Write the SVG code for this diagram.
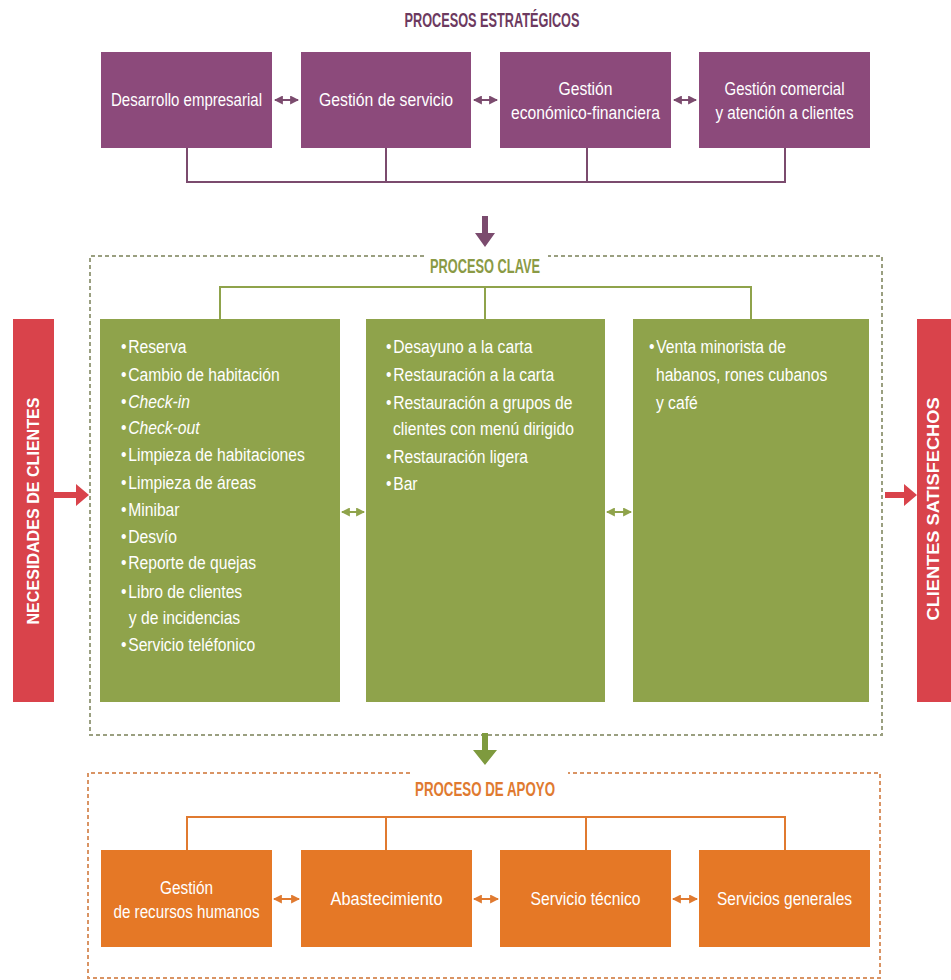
<svg xmlns="http://www.w3.org/2000/svg" width="951" height="980" viewBox="0 0 951 980">
<defs>
<style>
text{font-family:"Liberation Sans",Arial,sans-serif;fill:#fff}
.lbl{font-size:17.5px;text-anchor:middle}
.li{font-size:18px}
.ttl{font-size:20px;font-weight:bold;text-anchor:middle}
.side{font-size:16px;font-weight:bold;text-anchor:middle}
.pbox{fill:#8c4a7b}
.gbox{fill:#8fa34b}
.obox{fill:#e57826}
.rbar{fill:#d9434b}
.pl{stroke:#7b4b6e;stroke-width:2;fill:none}
.gl{stroke:#8fa34b;stroke-width:2;fill:none}
.ol{stroke:#e07a30;stroke-width:2;fill:none}
.gd{stroke:#9a9f80;stroke-width:2;stroke-dasharray:4 3;fill:none}
.od{stroke:#d99464;stroke-width:2;stroke-dasharray:4 3;fill:none}
</style>
<marker id="ap" viewBox="0 0 8 8" refX="7" refY="4" markerWidth="9" markerHeight="9" markerUnits="userSpaceOnUse" orient="auto-start-reverse"><path d="M0,0 L8,4 L0,8 z" fill="#7b4b6e"/></marker>
<marker id="ag" viewBox="0 0 8 8" refX="7" refY="4" markerWidth="9" markerHeight="9" markerUnits="userSpaceOnUse" orient="auto-start-reverse"><path d="M0,0 L8,4 L0,8 z" fill="#8fa34b"/></marker>
<marker id="ao" viewBox="0 0 8 8" refX="7" refY="4" markerWidth="9" markerHeight="9" markerUnits="userSpaceOnUse" orient="auto-start-reverse"><path d="M0,0 L8,4 L0,8 z" fill="#e07a30"/></marker>
</defs>
<rect width="951" height="980" fill="#fff"/>

<!-- frames and titles -->
<g id="frames">
<path class="gd" d="M424,256 H90 V735 H882 V256 H548"/>
<path class="od" d="M410,773 H88 V978 H880 V773 H568"/>
<text class="ttl" x="492" y="27" style="fill:#6d3a5f" textLength="175" lengthAdjust="spacingAndGlyphs">PROCESOS ESTRATÉGICOS</text>
<text class="ttl" x="485" y="273" style="fill:#8a9a45" textLength="110" lengthAdjust="spacingAndGlyphs">PROCESO CLAVE</text>
<text class="ttl" x="485" y="796" style="fill:#e07a30" textLength="140" lengthAdjust="spacingAndGlyphs">PROCESO DE APOYO</text>
</g>

<!-- connectors -->
<g id="connectors">
<path class="pl" d="M187,148 V182 H785 V148 M386,148 V182 M587,148 V182"/>
<line class="pl" x1="275" y1="100" x2="298" y2="100" marker-start="url(#ap)" marker-end="url(#ap)"/>
<line class="pl" x1="474" y1="100" x2="497" y2="100" marker-start="url(#ap)" marker-end="url(#ap)"/>
<line class="pl" x1="674" y1="100" x2="696" y2="100" marker-start="url(#ap)" marker-end="url(#ap)"/>
<path d="M482,216 H488 V233 H495 L485,247 L475,233 H482 Z" fill="#7b4b6e"/>
<path class="gl" d="M220,319 V287 H751 V319 M485,287 V319"/>
<line class="gl" x1="342" y1="512" x2="364" y2="512" marker-start="url(#ag)" marker-end="url(#ag)"/>
<line class="gl" x1="607" y1="512" x2="631" y2="512" marker-start="url(#ag)" marker-end="url(#ag)"/>
<path d="M482,733 H488 V750 H497 L485,765 L473,750 H482 Z" fill="#7e9a3e"/>
<path class="ol" d="M187,850 V817 H785 V850 M386,817 V850 M586,817 V850"/>
<line class="ol" x1="274" y1="899" x2="299" y2="899" marker-start="url(#ao)" marker-end="url(#ao)"/>
<line class="ol" x1="474" y1="899" x2="498" y2="899" marker-start="url(#ao)" marker-end="url(#ao)"/>
<line class="ol" x1="673" y1="899" x2="697" y2="899" marker-start="url(#ao)" marker-end="url(#ao)"/>
<path d="M54,492 H76 V484 L89,495 L76,506 V498 H54 Z" fill="#d9434b"/>
<path d="M885,492 H904 V484 L917,495 L904,506 V498 H885 Z" fill="#d9434b"/>
</g>

<!-- strategic -->
<g id="desarrollo"><rect class="pbox" x="101" y="52" width="171" height="96"/><text class="lbl" x="186.5" y="106" textLength="151" lengthAdjust="spacingAndGlyphs">Desarrollo empresarial</text></g>
<g id="gestion-servicio"><rect class="pbox" x="301" y="52" width="170" height="96"/><text class="lbl" x="386" y="106" textLength="134" lengthAdjust="spacingAndGlyphs">Gestión de servicio</text></g>
<g id="gestion-economica"><rect class="pbox" x="500" y="52" width="171" height="96"/><text class="lbl" x="585.5" y="95" textLength="54" lengthAdjust="spacingAndGlyphs">Gestión</text><text class="lbl" x="585.5" y="119" textLength="149" lengthAdjust="spacingAndGlyphs">económico-financiera</text></g>
<g id="gestion-comercial"><rect class="pbox" x="699" y="52" width="171" height="96"/><text class="lbl" x="784.5" y="95" textLength="120" lengthAdjust="spacingAndGlyphs">Gestión comercial</text><text class="lbl" x="784.5" y="119" textLength="138" lengthAdjust="spacingAndGlyphs">y atención a clientes</text></g>

<!-- side bars -->
<g id="necesidades"><rect class="rbar" x="13" y="319" width="41" height="383"/><text class="side" transform="translate(39,511) rotate(-90)" x="0" y="0" textLength="227" lengthAdjust="spacingAndGlyphs">NECESIDADES DE CLIENTES</text></g>
<g id="satisfechos"><rect class="rbar" x="917" y="319" width="34" height="383"/><text class="side" transform="translate(939,509) rotate(-90)" x="0" y="0" textLength="223" lengthAdjust="spacingAndGlyphs">CLIENTES SATISFECHOS</text></g>

<!-- key process -->
<g id="alojamiento"><rect class="gbox" x="100" y="319" width="240" height="383"/>
<g transform="translate(121,0) scale(0.87,1)">
<text class="li" x="0" y="353">•<tspan dx="2">Reserva</tspan></text>
<text class="li" x="0" y="381">•<tspan dx="2">Cambio de habitación</tspan></text>
<text class="li" x="0" y="408">•<tspan dx="2" font-style="italic">Check-in</tspan></text>
<text class="li" x="0" y="434">•<tspan dx="2" font-style="italic">Check-out</tspan></text>
<text class="li" x="0" y="461">•<tspan dx="2">Limpieza de habitaciones</tspan></text>
<text class="li" x="0" y="489">•<tspan dx="2">Limpieza de áreas</tspan></text>
<text class="li" x="0" y="516">•<tspan dx="2">Minibar</tspan></text>
<text class="li" x="0" y="543">•<tspan dx="2">Desvío</tspan></text>
<text class="li" x="0" y="569">•<tspan dx="2">Reporte de quejas</tspan></text>
<text class="li" x="0" y="598">•<tspan dx="2">Libro de clientes</tspan></text>
<text class="li" x="9" y="624">y de incidencias</text>
<text class="li" x="0" y="651">•<tspan dx="2">Servicio teléfonico</tspan></text>
</g>
</g>
<g id="restauracion"><rect class="gbox" x="366" y="319" width="239" height="383"/>
<g transform="translate(386,0) scale(0.87,1)">
<text class="li" x="0" y="353">•<tspan dx="2">Desayuno a la carta</tspan></text>
<text class="li" x="0" y="381">•<tspan dx="2">Restauración a la carta</tspan></text>
<text class="li" x="0" y="409">•<tspan dx="2">Restauración a grupos de</tspan></text>
<text class="li" x="8" y="435">clientes con menú dirigido</text>
<text class="li" x="0" y="463">•<tspan dx="2">Restauración ligera</tspan></text>
<text class="li" x="0" y="490">•<tspan dx="2">Bar</tspan></text>
</g>
</g>
<g id="venta"><rect class="gbox" x="633" y="319" width="236" height="383"/>
<g transform="translate(649,0) scale(0.87,1)">
<text class="li" x="0" y="353">•<tspan dx="2">Venta minorista de</tspan></text>
<text class="li" x="8" y="381">habanos, rones cubanos</text>
<text class="li" x="8" y="409">y café</text>
</g>
</g>

<!-- support -->
<g id="rrhh"><rect class="obox" x="101" y="850" width="171" height="97"/><text class="lbl" x="186.5" y="894" textLength="53" lengthAdjust="spacingAndGlyphs">Gestión</text><text class="lbl" x="186.5" y="918" textLength="146" lengthAdjust="spacingAndGlyphs">de recursos humanos</text></g>
<g id="abastecimiento"><rect class="obox" x="301" y="850" width="171" height="97"/><text class="lbl" x="386.5" y="905" textLength="112" lengthAdjust="spacingAndGlyphs">Abastecimiento</text></g>
<g id="servicio-tecnico"><rect class="obox" x="500" y="850" width="171" height="97"/><text class="lbl" x="585.5" y="905" textLength="110" lengthAdjust="spacingAndGlyphs">Servicio técnico</text></g>
<g id="servicios-generales"><rect class="obox" x="699" y="850" width="171" height="97"/><text class="lbl" x="784.5" y="905" textLength="135" lengthAdjust="spacingAndGlyphs">Servicios generales</text></g>
</svg>
